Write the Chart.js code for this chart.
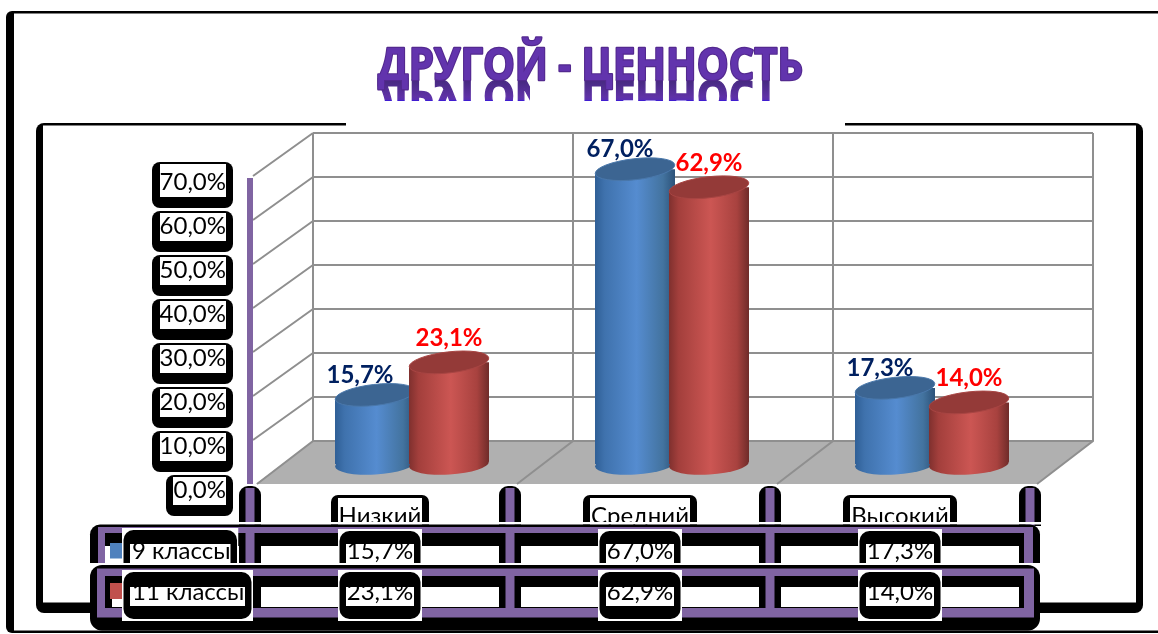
<!DOCTYPE html>
<html lang="ru">
<head>
<meta charset="utf-8">
<title>Другой - ценность</title>
<script src="https://cdn.jsdelivr.net/npm/chart.js@4"></script>
<style>
html,body{margin:0;padding:0;background:#fff;overflow:hidden}
canvas{display:block}
</style>
</head>
<body>
<canvas id="c" width="1158" height="634"></canvas>
<script>
const titleText = 'ДРУГОЙ - ЦЕННОСТЬ';
const categories = ['Низкий', 'Средний', 'Высокий'];
const seriesNames = ['9 классы', '11 классы'];
const grade9 = [15.7, 67.0, 17.3];
const grade11 = [23.1, 62.9, 14.0];
const yTickLabels = ['0,0%', '10,0%', '20,0%', '30,0%', '40,0%', '50,0%', '60,0%', '70,0%'];

const PURPLE = '#8064a2', GRID = '#8f8f8f', BLUE = '#4f81bd', RED = '#c0504d';
const FONT = 'Lato, "Open Sans", sans-serif';
const fmt = v => v.toFixed(1).replace('.', ',') + '%';
const rr = (ctx, x, y, w, h, r, fill) => { ctx.fillStyle = fill; ctx.beginPath(); ctx.roundRect(x, y, w, h, r); ctx.fill(); };
const box = (ctx, x, y, w, h, fill) => { ctx.fillStyle = fill; ctx.fillRect(x, y, w, h); };

// per-series 3D look; dx is the sideways shift of each cylinder from the category centre
const looks = {
  '9 классы': { stops: [[0, '#2f5f96'], [.12, '#3f72ad'], [.52, '#558cd0'], [.85, '#43739f'], [1, '#2c5279']], cap: '#3c6592', rim: '#4a78ab', label: '#002060', dx: -5, lx: -15, ly: -20 },
  '11 классы': { stops: [[0, '#7f302e'], [.12, '#a33f3c'], [.52, '#cc5653'], [.85, '#a8423f'], [1, '#6f2b29']], cap: '#943a38', rim: '#a84543', label: '#ff0000', dx: 69, lx: 0, ly: -24 }
};
const DY = -26, TILT_TOP = 4.5, TILT_BASE = 2.5, RY = 10.5;
const lookOf = (chart, i) => looks[chart.data.datasets[i].label];

const scene = {
  id: 'scene',
  beforeDraw(chart) {
    const { ctx, scales: { x, y } } = chart;
    ctx.save();
    box(ctx, 0, 0, chart.width, chart.height, '#fff');
    // outer frame
    ctx.fillStyle = '#000';
    ctx.beginPath(); ctx.roundRect(6, 11, 1300, 622, 6); ctx.fill();
    box(ctx, 14, 13.5, 1300, 617, '#fff');
    // inner frame
    rr(ctx, 36, 123, 1107, 490, 8, '#000');
    box(ctx, 43, 125.5, 1093, 477, '#fff');
    box(ctx, 346, 121, 499, 6, '#fff');

    // 3D walls
    const L = x.left, step = x.width / categories.length, bx = 63;
    const front = v => y.getPixelForValue(v) - 6, back = v => y.getPixelForValue(v) - 49;
    ctx.fillStyle = '#b0b0b0';
    ctx.beginPath();
    ctx.moveTo(L + 6, front(0)); ctx.lineTo(L + bx, back(0));
    ctx.lineTo(L + 3 * step + bx, back(0)); ctx.lineTo(L + 3 * step + 7, front(0));
    ctx.closePath(); ctx.fill();
    ctx.strokeStyle = GRID; ctx.lineWidth = 2;
    ctx.beginPath();
    for (let v = 0; v <= 70; v += 10) {
      if (v > 0) { ctx.moveTo(L + 3, front(v)); ctx.lineTo(L + bx, back(v)); }
      ctx.moveTo(L + bx, back(v)); ctx.lineTo(L + 3 * step + bx, back(v));
    }
    for (let i = 0; i <= 3; i++) {
      ctx.moveTo(L + i * step + bx, back(70)); ctx.lineTo(L + i * step + bx, back(0));
      ctx.lineTo(L + i * step + 7, front(0));
    }
    ctx.stroke();
    box(ctx, L - 3, front(70) + 2, 6, front(0) - front(70) - 2, PURPLE);

    // tick label plates
    y.ticks.forEach(t => {
      if (t.value > 70) return;
      const c = y.getPixelForValue(t.value);
      const wide = t.value >= 10;
      const xl = wide ? 152 : 166, xi = wide ? 160 : 173;
      const top = t.value === 70 ? c - 20 : c - 15;
      rr(ctx, xl, top, 233 - xl, c + 26 - top, 8, '#000');
      box(ctx, xi, top + 2, 226 - xi, c + 15 - top - 2, '#fff');
    });
    // axis stubs and category plates
    for (let i = 0; i <= 3; i++) {
      const cx = L + i * step;
      rr(ctx, cx - 11, 486, 22, 40, [9, 9, 0, 0], '#000');
      box(ctx, cx - 4.5, 488, 9, 40, PURPLE);
    }
    categories.forEach((_, i) => {
      const cx = x.getPixelForTick(i);
      const w = i === 0 ? 98 : 114;
      rr(ctx, cx - w / 2, 495, w, 32, [7, 7, 0, 0], '#000');
      box(ctx, cx - w / 2 + 7, 498, w - 14, 30, '#fff');
    });
    ctx.restore();
  },
  beforeDatasetDraw(chart, { index, meta }) {
    const { ctx } = chart, look = lookOf(chart, index);
    ctx.save();
    ctx.translate(look.dx, DY);
    meta.data.forEach(b => {
      const l = b.x - b.width / 2, r = b.x + b.width / 2;
      const g = ctx.createLinearGradient(l, 0, r, 0);
      look.stops.forEach(s => g.addColorStop(s[0], s[1]));
      b.options = Object.assign(Object.create(b.options), { backgroundColor: g });
      ctx.fillStyle = g;
      ctx.beginPath();
      ctx.ellipse(b.x, b.base, b.width / 2, RY, -Math.atan2(TILT_BASE * 2, b.width), 0, Math.PI * 2);
      ctx.fill();
    });
    ctx.beginPath();
    meta.data.forEach(b => {
      const l = b.x - b.width / 2, r = b.x + b.width / 2;
      ctx.moveTo(l, b.y + TILT_TOP); ctx.lineTo(r, b.y - TILT_TOP);
      ctx.lineTo(r, b.base - TILT_BASE); ctx.lineTo(l, b.base + TILT_BASE);
      ctx.closePath();
    });
    ctx.clip();
  },
  afterDatasetDraw(chart, { index, meta }) {
    const { ctx } = chart, look = lookOf(chart, index);
    ctx.restore();
    ctx.save();
    ctx.translate(look.dx, DY);
    meta.data.forEach(b => {
      ctx.beginPath();
      ctx.ellipse(b.x, b.y, b.width / 2, RY, -Math.atan2(TILT_TOP * 2, b.width), 0, Math.PI * 2);
      ctx.fillStyle = look.cap; ctx.fill();
      ctx.strokeStyle = look.rim; ctx.lineWidth = 1; ctx.stroke();
    });
    ctx.restore();
  },
  afterDatasetsDraw(chart) {
    const { ctx } = chart;
    ctx.save();
    ctx.font = 'bold 24px ' + FONT;
    ctx.textAlign = 'center'; ctx.textBaseline = 'middle';
    chart.data.datasets.forEach((ds, i) => {
      const look = lookOf(chart, i);
      chart.getDatasetMeta(i).data.forEach((b, j) => {
        ctx.fillStyle = look.label;
        ctx.fillText(fmt(ds.data[j]), b.x + look.dx + look.lx, b.y + DY + look.ly);
      });
    });
    // title with its cut-off mirror image
    const midX = 590.5, targetW = 425, axis = 80;
    ctx.font = 'bold 45px "Open Sans", sans-serif';
    const k = targetW / ctx.measureText(titleText).width;
    ctx.textBaseline = 'alphabetic';
    ctx.save();
    ctx.beginPath(); ctx.rect(370, 78, 402, 23); ctx.clip();
    ctx.setTransform(k, 0, 0, -1, midX, 2 * axis);
    const mg = ctx.createLinearGradient(0, axis, 0, axis - 21);
    mg.addColorStop(0, '#46297f'); mg.addColorStop(.8, '#5f32a6'); mg.addColorStop(.93, '#5a2fb0'); mg.addColorStop(1, '#3212e0');
    ctx.fillStyle = mg; ctx.strokeStyle = mg; ctx.lineWidth = 1.5;
    ctx.strokeText(titleText, 0, axis);
    ctx.fillText(titleText, 0, axis);
    ctx.setTransform(1, 0, 0, 1, 0, 0);
    box(ctx, 530, 78, 48, 24, '#fff');
    ctx.restore();
    ctx.save();
    ctx.translate(midX, 0); ctx.scale(k, 1);
    ctx.lineWidth = 2.4; ctx.lineJoin = 'round'; ctx.strokeStyle = '#53298f';
    ctx.strokeText(titleText, 0, axis);
    ctx.fillStyle = '#6234ad';
    ctx.fillText(titleText, 0, axis);
    ctx.restore();
    ctx.restore();
  },
  afterDraw(chart) {
    const { ctx, scales: { x } } = chart;
    const L = x.left, step = x.width / categories.length;
    ctx.save();
    // cut below category labels
    box(ctx, 90, 522, 960, 2.5, '#fff');

    // row 1
    ctx.save();
    ctx.beginPath(); ctx.rect(85, 520, 960, 43); ctx.clip();
    rr(ctx, 90, 524.5, 950, 50, [10, 10, 0, 0], '#000');
    box(ctx, 98, 527, 935, 6, PURPLE);
    box(ctx, 98, 527, 7, 40, PURPLE);
    box(ctx, 1024, 527, 9, 40, PURPLE);
    const cells = [[105, L - 11], [L + 11, L + step - 11], [L + step + 11, L + 2 * step - 11], [L + 2 * step + 11, L + 3 * step - 11]];
    cells.forEach(c => box(ctx, c[0], 546, c[1] - c[0], 20, '#fff'));
    for (let i = 0; i < 3; i++) box(ctx, L + i * step - 4.5, 533, 9, 32, PURPLE);
    ctx.restore();

    // row 2
    rr(ctx, 90, 565, 950, 65.5, 12, '#000');
    box(ctx, 97, 568.5, 937, 49, PURPLE);
    box(ctx, 105, 576, 919, 32, '#000');
    const cells2 = [[112, 252], [L + 11, L + step - 11], [L + step + 11, L + 2 * step - 11], [L + 2 * step + 11, L + 3 * step - 11]];
    cells2.forEach(c => box(ctx, c[0], 587, c[1] - c[0], 20, '#fff'));
    for (let i = 1; i < 3; i++) box(ctx, L + i * step - 4.5, 576, 9, 32, PURPLE);

    // legend keys
    box(ctx, 110, 543, 12, 15.5, BLUE);
    box(ctx, 110, 583, 12, 16, RED);

    const plate = (x0, w, oy, ob, open, iy, ib, text, base, tx, align) => {
      ctx.save();
      ctx.beginPath(); ctx.rect(x0, oy, w, ob - oy); ctx.clip();
      box(ctx, x0, oy, w, ob - oy, '#fff');
      rr(ctx, x0 + 1.5, oy + 2, w - 3, ob - oy - 4 + (open ? 14 : 0), 10, '#000');
      const iw = w - 16;
      box(ctx, x0 + 8, iy, iw, ib - iy, '#fff');
      ctx.beginPath(); ctx.rect(x0 + 8, iy, iw, ib - iy); ctx.clip();
      ctx.fillStyle = '#000'; ctx.font = '24px ' + FONT;
      ctx.textAlign = align; ctx.textBaseline = 'alphabetic';
      ctx.fillText(text, tx, base);
      ctx.restore();
    };
    plate(122, 116.5, 528, 563, true, 544, 563, seriesNames[0], 559, 132, 'left');
    plate(122, 131, 570, 621, false, 587, 606, seriesNames[1], 600, 132, 'left');
    categories.forEach((_, i) => {
      const cx = x.getPixelForTick(i);
      plate(cx - 42, 84, 529, 563, true, 544, 563, fmt(grade9[i]), 559, cx, 'center');
      plate(cx - 42, 84, 570, 621, false, 587, 606, fmt(grade11[i]), 600, cx, 'center');
    });
    ctx.restore();
  }
};

new Chart(document.getElementById('c'), {
  type: 'bar',
  data: {
    labels: categories,
    datasets: [
      { label: seriesNames[0], data: grade9, backgroundColor: BLUE, order: 2, clip: false },
      { label: seriesNames[1], data: grade11, backgroundColor: RED, order: 1, clip: false }
    ]
  },
  plugins: [scene],
  options: {
    responsive: false,
    animation: false,
    grouped: false,
    categoryPercentage: 0.3077,
    barPercentage: 1,
    layout: { padding: { left: 0, right: 128, top: 138, bottom: 0 } },
    plugins: { legend: { display: false }, title: { display: false }, tooltip: { enabled: false } },
    scales: {
      x: {
        grid: { display: false, drawTicks: false },
        border: { display: false },
        ticks: { color: '#000', font: { family: FONT, size: 24 }, padding: 12, maxRotation: 0 },
        afterFit(s) { s.height = 144; }
      },
      y: {
        min: 0, max: 80,
        grid: { display: false, drawTicks: false },
        border: { display: false },
        ticks: { stepSize: 10, color: '#000', font: { family: FONT, size: 24 }, padding: 24, callback: (v, i) => yTickLabels[i] ?? '' },
        afterFit(s) { s.width = 250; }
      }
    }
  }
});
</script>
</body>
</html>
